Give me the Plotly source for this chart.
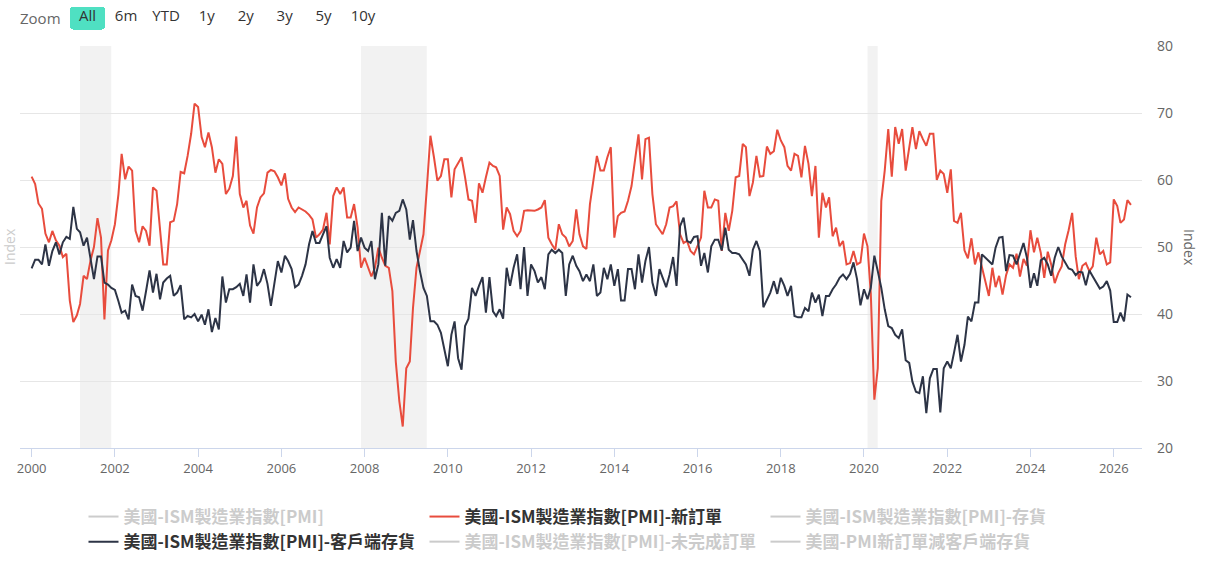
import pandas as pd
import plotly.graph_objects as go

# ---------------- data (monthly, Jan 2000 onward) ----------------
new_orders = [
    # 2000
    60.5, 59.4, 56.5, 55.7, 52.0, 50.7, 52.4, 51.0, 50.2, 48.5, 49.0, 42.0,
    # 2001
    38.8, 39.8, 41.5, 45.7, 45.2, 48.0, 50.0, 54.3, 51.4, 39.2, 49.5, 51.0,
    # 2002
    53.4, 57.9, 63.9, 60.1, 62.0, 61.4, 52.4, 50.7, 53.1, 52.4, 50.2, 58.9,
    # 2003
    58.4, 52.9, 47.4, 47.4, 53.7, 53.9, 56.4, 61.2, 61.0, 63.6, 66.9, 71.4,
    # 2004
    70.9, 66.4, 64.9, 67.1, 64.9, 61.1, 63.1, 62.4, 57.9, 58.7, 60.6, 66.5,
    # 2005
    57.9, 55.9, 56.9, 53.2, 52.0, 55.9, 57.4, 58.0, 61.1, 61.5, 61.3, 60.4,
    # 2006
    59.2, 61.0, 57.2, 55.9, 55.2, 55.9, 55.6, 55.3, 54.8, 54.1, 51.4, 51.9,
    # 2007
    52.6, 55.1, 50.4, 57.6, 58.9, 57.9, 58.9, 54.4, 54.4, 56.4, 52.9, 46.9,
    # 2008
    48.4, 46.9, 45.6, 46.9, 49.9, 48.4, 47.2, 46.9, 43.4, 32.9, 27.0, 23.2,
    # 2009
    31.9, 32.9, 40.9, 46.9, 49.4, 51.9, 58.9, 66.6, 63.4, 59.9, 60.6, 63.1,
    # 2010
    63.1, 57.4, 61.6, 62.6, 63.4, 60.4, 57.1, 56.9, 53.6, 59.5, 58.1, 60.4,
    # 2011
    62.6, 62.1, 61.9, 60.6, 52.6, 55.9, 54.9, 52.4, 51.6, 52.4, 55.4, 55.5,
    # 2012
    55.4, 55.4, 55.6, 55.9, 57.0, 51.4, 50.4, 49.6, 53.4, 51.9, 51.4, 50.1,
    # 2013
    50.9, 55.6, 51.9, 50.1, 49.7, 56.4, 59.9, 63.6, 61.4, 61.4, 63.4, 64.9,
    # 2014
    51.4, 54.6, 55.1, 55.3, 56.9, 59.1, 62.9, 66.8, 60.1, 66.1, 66.3, 57.9,
    # 2015
    53.4, 52.6, 51.9, 53.4, 55.9, 56.1, 56.8, 51.9, 50.6, 50.9, 49.4, 48.9,
    # 2016
    50.1, 51.4, 58.4, 55.9, 55.9, 57.1, 56.9, 49.4, 55.1, 52.4, 55.4, 60.4,
    # 2017
    60.6, 65.4, 64.9, 57.6, 59.6, 63.6, 60.5, 60.6, 65.0, 63.9, 64.3, 67.5,
    # 2018
    65.9, 64.9, 62.1, 61.4, 63.9, 63.6, 60.4, 65.1, 62.4, 57.6, 62.1, 51.4,
    # 2019
    58.1, 55.9, 57.4, 51.6, 52.9, 50.1, 50.9, 47.4, 47.6, 49.4, 47.4, 47.7,
    # 2020
    52.0, 50.1, 43.0, 27.2, 31.9, 56.9, 61.4, 67.6, 60.5, 67.9, 65.4, 67.6,
    # 2021
    61.4, 64.9, 67.9, 64.6, 67.3, 66.1, 65.1, 66.9, 66.9, 60.0, 61.4, 60.9,
    # 2022
    58.1, 61.6, 53.9, 53.6, 55.1, 49.5, 48.3, 51.3, 47.4, 49.2, 46.9, 44.9,
    # 2023
    42.7, 46.9, 44.0, 45.7, 42.9, 45.8, 47.4, 46.9, 49.0, 45.6, 48.2, 47.2,
    # 2024
    52.5, 49.2, 51.4, 49.1, 45.4, 49.3, 47.4, 44.6, 46.1, 47.1, 50.4, 52.5,
    # 2025
    55.1, 48.6, 45.2, 47.2, 47.6, 46.4, 47.1, 51.4, 48.9, 49.4, 47.4, 47.7,
    # 2026
    57.1, 56.1, 53.6, 54.1, 57.0, 56.3,
]

customer_inv = [
    # 2000
    46.8, 48.1, 48.1, 47.4, 50.4, 47.2, 49.4, 50.7, 48.9, 50.7, 51.5, 51.2,
    # 2001
    56.0, 52.7, 52.2, 50.2, 51.4, 48.4, 45.2, 48.6, 48.6, 44.7, 44.4, 43.9,
    # 2002
    43.6, 41.9, 40.2, 40.5, 39.2, 44.4, 42.7, 42.5, 40.5, 43.4, 46.5, 43.2,
    # 2003
    46.0, 42.2, 44.7, 45.3, 45.7, 42.7, 43.2, 44.3, 39.2, 39.7, 39.5, 40.0,
    # 2004
    38.9, 39.9, 38.4, 40.7, 37.3, 39.4, 37.7, 45.6, 41.7, 43.7, 43.7, 44.0,
    # 2005
    44.5, 42.7, 45.9, 41.7, 47.4, 44.2, 44.9, 46.7, 44.5, 41.2, 44.9, 47.9,
    # 2006
    46.2, 48.7, 47.9, 46.7, 44.0, 44.4, 45.7, 47.4, 50.4, 52.4, 50.6, 50.6,
    # 2007
    51.9, 53.1, 48.4, 46.9, 48.2, 46.9, 50.9, 49.2, 49.9, 53.9, 49.4, 51.4,
    # 2008
    49.9, 49.4, 50.9, 45.2, 47.4, 55.1, 47.2, 54.6, 53.9, 55.1, 55.4, 57.1,
    # 2009
    55.6, 51.1, 54.0, 49.4, 46.4, 43.9, 42.7, 38.9, 38.9, 38.4, 37.2, 34.9,
    # 2010
    32.2, 36.9, 38.9, 33.4, 31.7, 38.2, 39.3, 43.9, 42.7, 44.2, 45.5, 40.2,
    # 2011
    45.5, 40.4, 39.7, 40.7, 39.3, 46.9, 44.2, 46.9, 48.9, 43.7, 50.0, 42.7,
    # 2012
    47.4, 46.4, 44.7, 45.5, 43.7, 48.9, 49.6, 49.1, 49.6, 49.1, 42.7, 47.4,
    # 2013
    48.7, 47.2, 46.4, 44.9, 45.9, 44.9, 47.4, 42.7, 43.2, 46.9, 45.2, 47.4,
    # 2014
    44.2, 46.7, 42.0, 42.0, 46.7, 46.7, 43.7, 48.9, 44.7, 47.9, 50.0, 44.7,
    # 2015
    42.7, 46.7, 45.4, 44.0, 45.9, 48.5, 44.2, 53.1, 54.4, 50.9, 50.6, 51.5,
    # 2016
    51.6, 47.2, 49.1, 46.2, 50.1, 51.1, 51.1, 49.5, 52.9, 49.6, 49.1, 49.1,
    # 2017
    48.9, 48.2, 47.4, 45.7, 49.6, 50.9, 49.4, 41.0, 42.0, 43.2, 44.9, 43.0,
    # 2018
    45.4, 44.2, 42.7, 44.2, 39.7, 39.5, 39.5, 40.9, 40.4, 43.2, 41.7, 42.9,
    # 2019
    39.7, 42.7, 42.7, 43.7, 44.4, 45.4, 45.9, 45.2, 46.0, 47.7, 45.2, 41.3,
    # 2020
    43.7, 42.2, 43.9, 48.7, 46.4, 43.9, 40.7, 38.2, 37.9, 36.9, 36.4, 37.7,
    # 2021
    33.1, 32.7, 29.9, 28.4, 28.2, 30.7, 25.2, 30.4, 31.8, 31.8, 25.3, 31.9,
    # 2022
    32.9, 31.9, 34.2, 36.9, 32.9, 35.4, 39.6, 38.9, 41.7, 41.7, 48.9, 48.4,
    # 2023
    47.9, 47.4, 49.9, 51.4, 51.5, 46.4, 48.8, 48.7, 47.4, 48.9, 50.6, 48.4,
    # 2024
    43.9, 46.1, 44.2, 48.0, 48.4, 47.4, 45.7, 48.4, 50.0, 48.6, 47.6, 46.8,
    # 2025
    46.6, 45.8, 46.3, 46.2, 44.3, 46.5, 45.6, 44.6, 43.8, 44.1, 44.9, 43.5,
    # 2026
    38.8, 38.8, 40.2, 38.9, 42.9, 42.5,
]

start_month = "2000-01-01"
dates = pd.date_range(start_month, periods=len(new_orders), freq="MS")

recessions = [("2001-03-01", "2001-11-30"),
              ("2007-12-01", "2009-06-30"),
              ("2020-02-01", "2020-04-30")]

legend_names = [
    "美國-ISM製造業指數[PMI]",
    "美國-ISM製造業指數[PMI]-新訂單",
    "美國-ISM製造業指數[PMI]-存貨",
    "美國-ISM製造業指數[PMI]-客戶端存貨",
    "美國-ISM製造業指數[PMI]-未完成訂單",
    "美國-PMI新訂單減客戶端存貨",
]

y_ticks = [20, 30, 40, 50, 60, 70, 80]
x_range_pad = ["1999-09-21", "2026-09-06"]

RED = "#e84c3d"
NAVY = "#2d3446"
FONT = "Noto Sans CJK TC"
NB = "\u00a0"

# plot-area geometry in pixels
W, H = 1217, 561
L, R, T, B = 20, 75, 46, 113
PW, PH = W - L - R, H - T - B

def px_x(px):
    return (px - L) / PW

def px_y(py):
    return (H - B - py) / PH

# ---------------- figure ----------------
fig = go.Figure()

def hidden_trace(name):
    # series switched off in the legend (no values shown in the reference)
    return go.Scatter(
        x=[dates[0]], y=[None], mode="lines", visible="legendonly",
        name='<b><span style="color:#999999">%s</span></b>' % name,
        line=dict(color="#999999", width=2),
    )

fig.add_trace(hidden_trace(legend_names[0]))
fig.add_trace(go.Scatter(
    x=dates, y=new_orders, mode="lines",
    name="<b>%s</b>" % legend_names[1],
    line=dict(color=RED, width=2),
))
fig.add_trace(hidden_trace(legend_names[2]))
fig.add_trace(go.Scatter(
    x=dates, y=customer_inv, mode="lines",
    name="<b>%s</b>" % legend_names[3],
    line=dict(color=NAVY, width=2),
))
fig.add_trace(hidden_trace(legend_names[4]))
fig.add_trace(hidden_trace(legend_names[5]))

for a, b in recessions:
    fig.add_shape(type="rect", xref="x", yref="paper", x0=a, x1=b, y0=0, y1=1,
                  fillcolor="#f2f2f2", line=dict(width=0), layer="below")

fig.update_layout(
    width=W, height=H,
    margin=dict(l=L, r=R, t=T, b=B, autoexpand=False),
    paper_bgcolor="white", plot_bgcolor="white",
    font=dict(family=FONT, color="#333333"),
    showlegend=True,
    legend=dict(
        orientation="h", x=px_x(595), xanchor="center", y=px_y(499), yanchor="top",
        entrywidth=296, entrywidthmode="pixels", itemwidth=30,
        font=dict(family=FONT, size=17, color="#333333"),
        bgcolor="rgba(0,0,0,0)",
    ),
    hovermode="x unified",
)

fig.update_xaxes(
    type="date",
    autorange=True,
    autorangeoptions=dict(include=x_range_pad),
    tickformat="%Y", dtick="M24", tick0="2000-01-01",
    ticks="outside", ticklen=8, tickcolor="#ccd6eb",
    showline=True, linecolor="#ccd6eb", linewidth=1,
    showgrid=False, zeroline=False,
    tickfont=dict(family="Open Sans", size=13, color="#666666"),
    rangeselector=dict(
        buttons=[
            dict(step="all", label=NB + "All" + NB),
            dict(count=6, label="6m", step="month", stepmode="backward"),
            dict(count=1, label="YTD", step="year", stepmode="todate"),
            dict(count=1, label=NB + "1y" + NB, step="year", stepmode="backward"),
            dict(count=2, label=NB + "2y" + NB, step="year", stepmode="backward"),
            dict(count=3, label=NB + "3y" + NB, step="year", stepmode="backward"),
            dict(count=5, label=NB + "5y" + NB, step="year", stepmode="backward"),
            dict(count=10, label="10y", step="year", stepmode="backward"),
        ],
        bgcolor="white", activecolor="#4fe0c2", borderwidth=0,
        font=dict(family="Open Sans", size=15, color="#333333"),
        x=px_x(70), xanchor="left",
        y=px_y(7), yanchor="top",
    ),
)

fig.update_yaxes(
    side="right", range=[20, 80], tickvals=y_ticks,
    showgrid=True, gridcolor="#e6e6e6", gridwidth=1,
    zeroline=False, showline=False, ticks="",
    ticklabelstandoff=14,
    tickfont=dict(family="Open Sans", size=14, color="#666666"),
)

fig.add_annotation(text="Zoom", xref="paper", yref="paper",
                   x=px_x(18), xanchor="left", y=px_y(18), yanchor="middle",
                   showarrow=False,
                   font=dict(family="Open Sans", size=15, color="#666666"))
fig.add_annotation(text="Index", xref="paper", yref="paper",
                   x=px_x(1190), xanchor="center", y=px_y(247), yanchor="middle",
                   textangle=90, showarrow=False,
                   font=dict(family="Open Sans", size=14, color="#666666"))
fig.add_annotation(text="Index", xref="paper", yref="paper",
                   x=px_x(9), xanchor="center", y=px_y(247), yanchor="middle",
                   textangle=-90, showarrow=False,
                   font=dict(family="Open Sans", size=14, color="#cccccc"))

fig.write_html(
    "out.html",
    config={"displayModeBar": False},
    post_script="document.body.style.margin='0';document.body.style.padding='0';",
)
